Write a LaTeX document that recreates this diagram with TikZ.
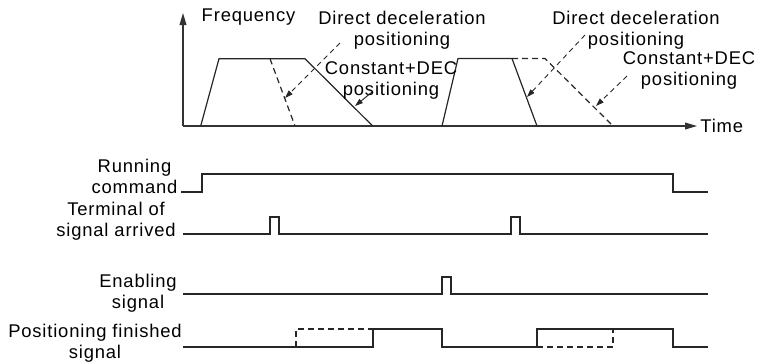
\documentclass[tikz,border=0pt]{standalone}
\usepackage{fontspec}
\setmainfont{Liberation Sans}[LetterSpace=4.5]
\usetikzlibrary{arrows.meta}
\tikzset{
  >={Triangle[length=4pt,width=2.6pt]},
  wave/.style={line width=0.6pt,black!85},
  alt/.style={wave,dash pattern=on 3pt off 2pt},
  lead/.style={->,line width=0.45pt,black!85,dash pattern=on 2.5pt off 2pt},
  axis/.style={line width=0.6pt,black!80,-{Triangle[length=6pt,width=3.4pt]}},
  lbl/.style={align=center,font=\fontsize{9.2}{10.4}\selectfont,inner sep=0pt,anchor=base}
}
\begin{document}
\begin{tikzpicture}[x=0.5pt,y=-0.5pt]
\useasboundingbox (0,0) rectangle (759,361);
% frequency axes
\coordinate (o) at (183,126);
\coordinate (ytip) at (183,13);
\coordinate (xtip) at (697,126);
\draw[axis] (o) -- (ytip);
\draw[axis] (o) -- (xtip);
\node[lbl] (freq) at (248.5,21) {Frequency};
\node[lbl,anchor=base west] (time) at (700,132) {Time};
% frequency profiles
\draw[wave] (200.7,126) -- (219,58.7) -- (305,58.7) -- (372.7,126);
\draw[alt] (270,58.7) -- (295,126);
\draw[wave] (442,126) -- (458,58.5) -- (512,58.5) -- (537,126);
\draw[alt] (512,58.5) -- (545,58.5) -- (613,126);
% labels and leaders (base = last line)
\node[lbl] (dd1) at (402,45) {Direct deceleration\\positioning};
\node[lbl] (cd1) at (391,95) {Constant+DEC\\positioning};
\node[lbl] (dd2) at (636,45) {Direct deceleration\\positioning};
\node[lbl] (cd2) at (689,85) {Constant+DEC\\positioning};
\coordinate (dd1s) at (340,43);
\coordinate (dd1t) at (285,98);
\coordinate (cd1s) at (372,92);
\coordinate (cd1t) at (355,106);
\coordinate (dd2s) at (585,35);
\coordinate (dd2t) at (527,97);
\coordinate (cd2s) at (627,76);
\coordinate (cd2t) at (596,106);
\draw[lead] (dd1s) -- (dd1t);
\draw[lead,solid] (cd1s) -- (cd1t);
\draw[lead] (dd2s) -- (dd2t);
\draw[lead] (cd2s) -- (cd2t);
% timing signals
\node[lbl] (run) at (134.5,193) {Running\\command};
\node[lbl] (term) at (116,236) {Terminal of\\signal arrived};
\node[lbl] (enab) at (138,308) {Enabling\\signal};
\node[lbl] (fin) at (95,358) {Positioning finished\\signal};
\draw[wave] (181,192) -- (202,192) -- (202,174) -- (673,174) -- (673,192) -- (708,192);
\draw[wave] (183,234) -- (270,234) -- (270,217) -- (279,217) -- (279,234)
  -- (511,234) -- (511,217) -- (520,217) -- (520,234) -- (708,234);
\draw[wave] (183,294) -- (442,294) -- (442,277) -- (451,277) -- (451,294) -- (708,294);
\draw[wave] (183,347) -- (373,347) -- (373,329) -- (442,329) -- (442,347)
  -- (537,347) -- (537,329) -- (673,329) -- (673,347) -- (708,347);
\draw[alt] (296,347) -- (296,329) -- (373,329);
\draw[alt] (537,347) -- (613,347) -- (613,329);
\end{tikzpicture}
\end{document}
